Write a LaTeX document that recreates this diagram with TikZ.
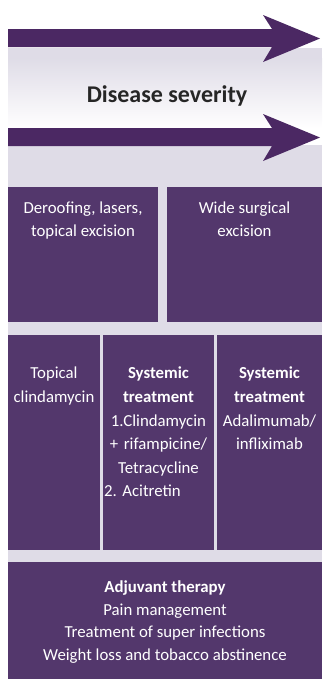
\documentclass[tikz,border=0pt]{standalone}
\usepackage{fontspec}
\setmainfont{Carlito}
\usetikzlibrary{positioning}

\definecolor{arrowpurple}{HTML}{4B2863}
\definecolor{boxpurple}{HTML}{53376C}
\definecolor{lavender}{HTML}{DFDCE7}

\tikzset{
  panel/.style={fill=boxpurple, anchor=north west, inner sep=0pt, outer sep=0pt},
  paneltext/.style={text=white, align=center, inner sep=0pt,
    font=\fontsize{16.8}{22.5}\selectfont},
  widetext/.style={paneltext, font=\fontsize{16.8}{23.6}\selectfont},
  bigarrow/.style={fill=arrowpurple},
}

\begin{document}
\begin{tikzpicture}[x=1pt,y=-1pt]
\useasboundingbox (0,0) rectangle (322,689);

% background band
\fill[lavender] (8,48) rectangle (322,58);
\shade[top color=lavender, bottom color=white] (8,58) rectangle (322,128);
\fill[lavender] (8,145) rectangle (322,679);

% severity arrows
\foreach \t in {29,128}
  \fill[bigarrow] (8,\t) -- (272,\t) -- (263,\t-14) -- (320,\t+9.5)
    -- (263,\t+33) -- (272,\t+18) -- (8,\t+18) -- cycle;

\node[font=\fontsize{24}{28}\selectfont\bfseries, text=black!85] (sev) at (167,96) {Disease severity};

% panels
\node[panel, minimum width=150pt, minimum height=135pt] (der) at (8,187) {};
\node[panel, minimum width=155pt, minimum height=135pt] (wide) at (167,187) {};
\node[panel, minimum width=92pt, minimum height=215pt] (topic) at (8,335) {};
\node[panel, minimum width=111pt, minimum height=215pt] (sys) at (103,335) {};
\node[panel, minimum width=105pt, minimum height=215pt] (bio) at (217,335) {};
\node[panel, minimum width=314pt, minimum height=117pt] (adj) at (8,562) {};

% panel texts
\node[paneltext, below=15pt of der.north] (dertxt) {Deroofing, lasers,\\topical excision};
\node[paneltext, below=15pt of wide.north] (widetxt) {Wide surgical\\excision};
\node[widetext, below=32pt of topic.north] (topictxt) {Topical\\clindamycin};
\node[widetext, text width=109pt, below=32pt of sys.north] (systxt)
  {\textbf{Systemic}\\\textbf{treatment}\\1.Clindamycin\\+ rifampicine/\\Tetracycline\\\makebox[\linewidth][l]{2.\ Acitretin}};
\node[widetext, below=32pt of bio.north] (biotxt)
  {\textbf{Systemic}\\\textbf{treatment}\\Adalimumab/\\infliximab};
\node[paneltext, below=19pt of adj.north] (adjtxt)
  {\textbf{Adjuvant therapy}\\Pain management\\Treatment of super infections\\Weight loss and tobacco abstinence};
\end{tikzpicture}
\end{document}
